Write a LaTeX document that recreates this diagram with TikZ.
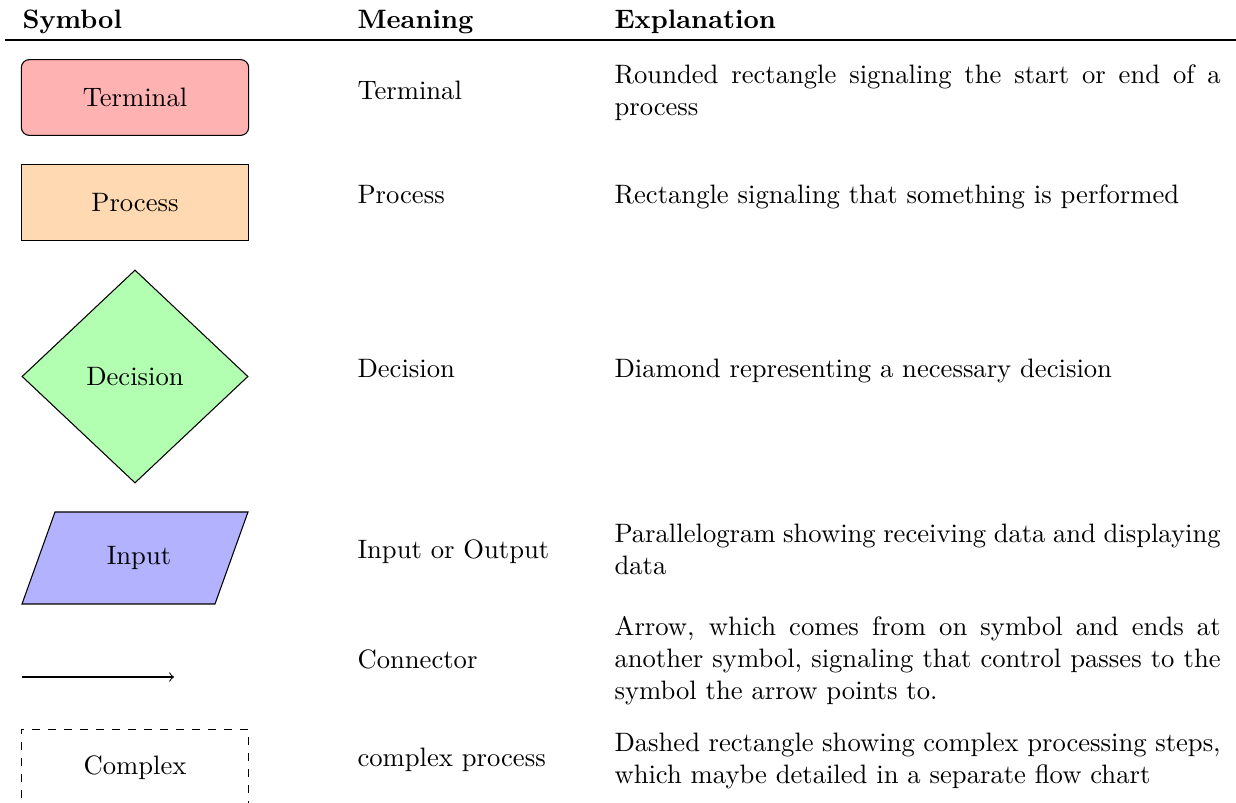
\documentclass[tikz,border=0pt]{standalone}
\usetikzlibrary{shapes.geometric}
\begin{document}
\begin{tikzpicture}[x=0.3755pt,y=-0.3755pt,
  symbox/.style={draw,minimum width=3cm,minimum height=1cm,inner sep=0pt},
  head/.style={font=\bfseries,inner sep=0pt,anchor=base west},
  meaning/.style={inner sep=0pt,anchor=base west},
  explain/.style={inner sep=0pt,anchor=base west,text width=227.6pt,align=justify}]
\useasboundingbox (0,0) rectangle (1236,803);

% column heads and rule
\node[head] (hsym) at (22,29) {Symbol};
\node[head] (hmean) at (357,29) {Meaning};
\node[head] (hexp) at (614,29) {Explanation};
\coordinate (rl) at (5,40);
\coordinate (rr) at (1236,40);
\draw[line width=0.6pt] (rl) -- (rr);

% symbols
\node[symbox,rounded corners=3pt,fill=red!30] (term) at (135,97.5) {Terminal};
\node[symbox,fill=orange!30] (proc) at (135,202.5) {Process};
\node[draw,diamond,fill=green!30,inner sep=0pt,minimum width=84.9pt,minimum height=80pt] (dec) at (135,376.5) {Decision};
\fill[blue!30] (55,512) -- (248,512) -- (215,604) -- (22,604) -- cycle;
\draw (55,512) -- (248,512) -- (215,604) -- (22,604) -- cycle;
\node[inner sep=0pt] (inp) at (139,558) {Input};
\coordinate (a1) at (22,677);
\coordinate (a2) at (174,677);
\draw[->] (a1) -- (a2);
\node[symbox,dashed] (cplx) at (135,767.5) {Complex};

% meanings
\node[meaning] (m1) at (357,100) {Terminal};
\node[meaning] (m2) at (357,204) {Process};
\node[meaning] (m3) at (357,378) {Decision};
\node[meaning] (m4) at (357,559) {Input or Output};
\node[meaning] (m5) at (357,669) {Connector};
\node[meaning] (m6) at (357,767) {complex process};

% explanations
\node[explain] (e1) at (614,84) {Rounded rectangle signaling the start or end of a process};
\node[explain] (e2) at (614,204) {Rectangle signaling that something is performed};
\node[explain] (e3) at (614,378) {Diamond representing a necessary decision};
\node[explain] (e4) at (614,543) {Parallelogram showing receiving data and displaying data};
\node[explain] (e5) at (614,636) {Arrow, which comes from on symbol and ends at another symbol, signaling that control passes to the symbol the arrow points to.};
\node[explain] (e6) at (614,752) {Dashed rectangle showing complex processing steps, which maybe detailed in a separate flow chart};
\end{tikzpicture}
\end{document}
